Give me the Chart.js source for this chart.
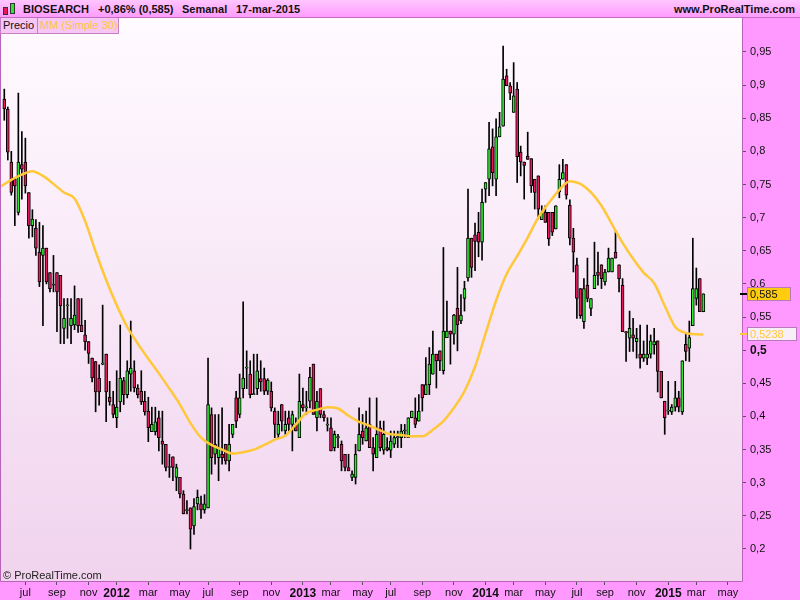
<!DOCTYPE html>
<html>
<head>
<meta charset="utf-8">
<title>BIOSEARCH - Semanal</title>
<script src="https://cdn.jsdelivr.net/npm/chart.js@4.4.1/dist/chart.umd.min.js"></script>
<style>
  body { margin: 0; width: 800px; height: 600px; overflow: hidden; position: relative;
         background: #ff99ff; font-family: "Liberation Sans", Arial, sans-serif; }
  #top { position: absolute; left: 0; top: 0; width: 800px; height: 17px;
         background: linear-gradient(#ffc6ff, #ff9cff); border-bottom: 1px solid #c46cc4; }
  #top span { position: absolute; top: 3px; font-size: 11px; font-weight: bold; color: #111; white-space: nowrap; }
  .ico { position: absolute; border: 1px solid #333; width: 3px; }
  #wrap { position: absolute; left: 0; top: 18px; width: 800px; height: 582px; }
  .leg { position: absolute; top: 18px; height: 15px; line-height: 15px; font-size: 11px; padding: 0 2px;
         white-space: nowrap; background: #f6c6f4; border: 1px solid #c57fc5; border-top: none; }
  #copy { position: absolute; left: 3px; top: 569px; font-size: 11px; color: #222; }
</style>
</head>
<body>
<div id="top">
  <div class="ico" style="left:3px;top:7px;height:6px;background:#e8185c"></div>
  <div class="ico" style="left:10px;top:3px;height:9px;background:#2ee82e"></div>
  <span style="left:23px">BIOSEARCH</span>
  <span style="left:98px">+0,86% (0,585)</span>
  <span style="left:182px">Semanal</span>
  <span style="left:236px">17-mar-2015</span>
  <span style="right:5px">www.ProRealTime.com</span>
</div>
<div id="wrap"><canvas id="chart"></canvas></div>
<div class="leg" style="left:0;width:33px;color:#111">Precio</div>
<div class="leg" style="left:37px;width:76px;color:#fbc63c">MM (Simple 30)</div>
<div id="copy">© ProRealTime.com</div>

<script>
// weekly candles, first one is the week of 23-may-2011
const firstWeek = Date.UTC(2011, 4, 23);

const opens = [
  0.879, 0.864, 0.784, 0.758, 0.708, 0.780, 0.784, 0.738, 0.688, 0.684,
  0.648, 0.643, 0.654, 0.617, 0.598, 0.617, 0.613, 0.533, 0.567, 0.537,
  0.538, 0.578, 0.538, 0.523, 0.513, 0.488, 0.483, 0.458, 0.479, 0.494,
  0.429, 0.418, 0.398, 0.422, 0.454, 0.433, 0.464, 0.469, 0.443, 0.438,
  0.423, 0.408, 0.377, 0.377, 0.398, 0.363, 0.358, 0.323, 0.339, 0.308,
  0.308, 0.283, 0.258, 0.262, 0.235, 0.268, 0.268, 0.259, 0.262, 0.403,
  0.343, 0.338, 0.343, 0.358, 0.333, 0.373, 0.428, 0.403, 0.442, 0.473,
  0.464, 0.433, 0.442, 0.457, 0.457, 0.438, 0.438, 0.408, 0.373, 0.418,
  0.378, 0.398, 0.388, 0.388, 0.368, 0.418, 0.413, 0.423, 0.479, 0.398,
  0.442, 0.403, 0.387, 0.383, 0.353, 0.368, 0.358, 0.343, 0.323, 0.308,
  0.308, 0.348, 0.378, 0.363, 0.388, 0.353, 0.338, 0.383, 0.349, 0.353,
  0.349, 0.358, 0.368, 0.368, 0.378, 0.368, 0.398, 0.398, 0.393, 0.448,
  0.433, 0.448, 0.464, 0.494, 0.499, 0.469, 0.519, 0.529, 0.524, 0.563,
  0.544, 0.578, 0.609, 0.669, 0.674, 0.678, 0.663, 0.743, 0.758, 0.807,
  0.758, 0.822, 0.838, 0.914, 0.899, 0.859, 0.894, 0.799, 0.784, 0.793,
  0.789, 0.758, 0.763, 0.697, 0.708, 0.708, 0.708, 0.683, 0.739, 0.758,
  0.780, 0.719, 0.669, 0.629, 0.593, 0.543, 0.598, 0.563, 0.593, 0.618,
  0.629, 0.603, 0.618, 0.618, 0.648, 0.629, 0.598, 0.528, 0.518, 0.523,
  0.513, 0.494, 0.488, 0.488, 0.494, 0.508, 0.514, 0.468, 0.423, 0.408,
  0.407, 0.414, 0.428, 0.407, 0.509, 0.503, 0.537, 0.578, 0.608, 0.558
];
const highs = [
  0.894, 0.867, 0.800, 0.758, 0.888, 0.830, 0.820, 0.738, 0.712, 0.697,
  0.693, 0.688, 0.654, 0.617, 0.643, 0.617, 0.613, 0.578, 0.578, 0.578,
  0.597, 0.578, 0.578, 0.545, 0.513, 0.488, 0.483, 0.478, 0.568, 0.494,
  0.453, 0.438, 0.469, 0.538, 0.459, 0.484, 0.544, 0.484, 0.448, 0.469,
  0.438, 0.429, 0.414, 0.414, 0.408, 0.408, 0.358, 0.343, 0.339, 0.328,
  0.308, 0.288, 0.273, 0.262, 0.276, 0.289, 0.280, 0.282, 0.488, 0.413,
  0.403, 0.403, 0.413, 0.358, 0.388, 0.388, 0.438, 0.464, 0.573, 0.499,
  0.484, 0.494, 0.494, 0.484, 0.473, 0.457, 0.452, 0.413, 0.408, 0.418,
  0.408, 0.408, 0.408, 0.398, 0.464, 0.443, 0.438, 0.474, 0.479, 0.438,
  0.442, 0.408, 0.398, 0.398, 0.378, 0.373, 0.363, 0.343, 0.343, 0.318,
  0.358, 0.413, 0.403, 0.408, 0.428, 0.368, 0.428, 0.393, 0.393, 0.368,
  0.378, 0.378, 0.378, 0.388, 0.388, 0.398, 0.408, 0.428, 0.433, 0.448,
  0.489, 0.504, 0.529, 0.494, 0.499, 0.655, 0.574, 0.529, 0.554, 0.625,
  0.584, 0.604, 0.743, 0.669, 0.692, 0.708, 0.743, 0.753, 0.844, 0.834,
  0.849, 0.859, 0.959, 0.924, 0.904, 0.934, 0.904, 0.808, 0.784, 0.829,
  0.789, 0.758, 0.763, 0.718, 0.718, 0.708, 0.708, 0.718, 0.780, 0.788,
  0.780, 0.727, 0.684, 0.639, 0.593, 0.608, 0.639, 0.578, 0.663, 0.648,
  0.629, 0.622, 0.654, 0.639, 0.679, 0.629, 0.608, 0.528, 0.559, 0.548,
  0.533, 0.538, 0.514, 0.538, 0.523, 0.533, 0.514, 0.468, 0.423, 0.453,
  0.418, 0.453, 0.438, 0.484, 0.524, 0.544, 0.669, 0.624, 0.608, 0.585
];
const lows = [
  0.847, 0.787, 0.734, 0.688, 0.704, 0.728, 0.737, 0.669, 0.671, 0.643,
  0.596, 0.537, 0.600, 0.588, 0.588, 0.528, 0.510, 0.510, 0.518, 0.510,
  0.531, 0.527, 0.528, 0.500, 0.480, 0.452, 0.407, 0.417, 0.478, 0.392,
  0.417, 0.398, 0.383, 0.407, 0.418, 0.428, 0.438, 0.437, 0.428, 0.418,
  0.402, 0.362, 0.377, 0.372, 0.348, 0.328, 0.318, 0.308, 0.303, 0.288,
  0.277, 0.253, 0.253, 0.200, 0.222, 0.259, 0.246, 0.254, 0.262, 0.313,
  0.328, 0.303, 0.328, 0.328, 0.318, 0.368, 0.383, 0.398, 0.428, 0.442,
  0.428, 0.433, 0.433, 0.438, 0.433, 0.433, 0.408, 0.368, 0.368, 0.378,
  0.373, 0.378, 0.348, 0.378, 0.368, 0.408, 0.403, 0.413, 0.403, 0.378,
  0.398, 0.393, 0.378, 0.348, 0.348, 0.353, 0.318, 0.318, 0.318, 0.303,
  0.298, 0.348, 0.358, 0.363, 0.353, 0.318, 0.338, 0.348, 0.343, 0.348,
  0.338, 0.353, 0.353, 0.353, 0.368, 0.368, 0.398, 0.383, 0.393, 0.408,
  0.433, 0.433, 0.464, 0.443, 0.469, 0.464, 0.519, 0.479, 0.509, 0.499,
  0.540, 0.559, 0.604, 0.610, 0.620, 0.641, 0.636, 0.723, 0.733, 0.748,
  0.733, 0.822, 0.838, 0.899, 0.878, 0.859, 0.753, 0.763, 0.728, 0.788,
  0.738, 0.713, 0.698, 0.697, 0.693, 0.658, 0.673, 0.683, 0.730, 0.758,
  0.728, 0.659, 0.618, 0.548, 0.548, 0.533, 0.573, 0.552, 0.593, 0.598,
  0.593, 0.598, 0.618, 0.618, 0.639, 0.588, 0.528, 0.483, 0.498, 0.498,
  0.488, 0.473, 0.483, 0.478, 0.488, 0.494, 0.437, 0.428, 0.373, 0.403,
  0.403, 0.408, 0.407, 0.403, 0.484, 0.483, 0.537, 0.568, 0.558, 0.558
];
const closes = [
  0.864, 0.799, 0.738, 0.748, 0.784, 0.773, 0.748, 0.688, 0.698, 0.654,
  0.603, 0.654, 0.603, 0.593, 0.598, 0.588, 0.567, 0.548, 0.567, 0.548,
  0.553, 0.537, 0.528, 0.513, 0.495, 0.458, 0.437, 0.437, 0.479, 0.437,
  0.422, 0.403, 0.414, 0.458, 0.433, 0.469, 0.473, 0.443, 0.433, 0.422,
  0.407, 0.383, 0.388, 0.392, 0.368, 0.358, 0.323, 0.323, 0.323, 0.323,
  0.283, 0.253, 0.258, 0.230, 0.264, 0.278, 0.259, 0.268, 0.418, 0.338,
  0.358, 0.353, 0.338, 0.333, 0.358, 0.388, 0.393, 0.428, 0.458, 0.473,
  0.433, 0.433, 0.469, 0.452, 0.438, 0.455, 0.413, 0.388, 0.388, 0.393,
  0.388, 0.388, 0.403, 0.378, 0.423, 0.413, 0.413, 0.459, 0.403, 0.423,
  0.403, 0.398, 0.387, 0.348, 0.373, 0.368, 0.333, 0.323, 0.318, 0.313,
  0.343, 0.373, 0.368, 0.383, 0.353, 0.343, 0.373, 0.353, 0.373, 0.349,
  0.363, 0.368, 0.368, 0.378, 0.378, 0.398, 0.408, 0.388, 0.408, 0.428,
  0.448, 0.479, 0.494, 0.484, 0.484, 0.529, 0.529, 0.524, 0.553, 0.538,
  0.553, 0.593, 0.669, 0.625, 0.664, 0.663, 0.723, 0.753, 0.804, 0.768,
  0.822, 0.837, 0.909, 0.899, 0.888, 0.884, 0.792, 0.784, 0.779, 0.788,
  0.748, 0.738, 0.713, 0.707, 0.693, 0.668, 0.678, 0.718, 0.758, 0.768,
  0.734, 0.669, 0.648, 0.578, 0.552, 0.593, 0.578, 0.578, 0.613, 0.613,
  0.608, 0.618, 0.639, 0.639, 0.639, 0.608, 0.528, 0.526, 0.533, 0.518,
  0.518, 0.488, 0.494, 0.494, 0.514, 0.513, 0.468, 0.428, 0.398, 0.408,
  0.414, 0.428, 0.414, 0.484, 0.498, 0.519, 0.593, 0.593, 0.558, 0.585
];

const maWeeks = [
  -1, 2, 5, 8, 11, 14, 17, 20, 23, 26, 29, 32, 35, 38, 41, 44, 47, 50, 53, 56,
  59, 62, 65, 68, 71, 74, 77, 80, 83, 86, 89, 92, 95, 98, 101, 104, 107, 110, 113, 116,
  119, 122, 125, 128, 131, 134, 137, 140, 143, 146, 149, 152, 155, 158, 161, 164, 167, 170, 173, 176,
  179, 182, 185, 188, 191, 194, 197, 199
];
const maValues = [
  0.747, 0.757, 0.765, 0.770, 0.763, 0.751, 0.738, 0.729, 0.695, 0.649,
  0.606, 0.568, 0.535, 0.510, 0.487, 0.465, 0.442, 0.418, 0.390, 0.368,
  0.357, 0.350, 0.344, 0.346, 0.350, 0.357, 0.365, 0.371, 0.388, 0.405,
  0.410, 0.414, 0.412, 0.401, 0.392, 0.386, 0.379, 0.373, 0.372, 0.370,
  0.370, 0.380, 0.393, 0.413, 0.438, 0.475, 0.525, 0.575, 0.615, 0.642,
  0.670, 0.700, 0.722, 0.742, 0.755, 0.751, 0.738, 0.718, 0.690, 0.662,
  0.638, 0.617, 0.601, 0.567, 0.535, 0.526, 0.524, 0.5238
];

const monthLabels = ['jul', 'sep', 'nov', '2012', 'mar', 'may', 'jul', 'sep', 'nov', '2013', 'mar', 'may',
  'jul', 'sep', 'nov', '2014', 'mar', 'may', 'jul', 'sep', 'nov', '2015', 'mar', 'may'];
const monthStarts = ['2011-07', '2011-09', '2011-11', '2012-01', '2012-03', '2012-05', '2012-07', '2012-09',
  '2012-11', '2013-01', '2013-03', '2013-05', '2013-07', '2013-09', '2013-11', '2014-01', '2014-03',
  '2014-05', '2014-07', '2014-09', '2014-11', '2015-01', '2015-03', '2015-05'];
const yTicks = [0.2, 0.25, 0.3, 0.35, 0.4, 0.45, 0.5, 0.55, 0.6, 0.65, 0.7, 0.75, 0.8, 0.85, 0.9, 0.95];

const UP = '#2ee82e', DOWN = '#e8185c', MA_COLOR = '#ffc83a';
const FONT = '"Liberation Sans", Arial, sans-serif';

// first weekly candle of every month carries the label
const weekOfMonth = ym => {
  const [y, m] = ym.split('-').map(Number);
  return Math.ceil((Date.UTC(y, m - 1, 1) - firstWeek) / (7 * 864e5));
};
const monthTicks = monthStarts.map(weekOfMonth);
const comma = v => String(v).replace('.', ',');

const idx = closes.map((_, i) => i);
const last = closes.length - 1;

const panels = {
  id: 'panels',
  beforeDraw(chart) {
    const { ctx, chartArea: a } = chart;
    ctx.save();
    ctx.fillStyle = '#ff99ff';
    ctx.fillRect(0, 0, chart.width, chart.height);
    const g = ctx.createLinearGradient(0, a.top, 0, a.bottom);
    g.addColorStop(0, '#fffbff');
    g.addColorStop(1, '#f1d3ee');
    ctx.fillStyle = g;
    ctx.fillRect(a.left, a.top, a.right - a.left, a.bottom - a.top);
    ctx.restore();
  },
  afterDraw(chart) {
    const { ctx, chartArea: a, scales } = chart;
    ctx.save();
    ctx.strokeStyle = '#b962b9';
    ctx.lineWidth = 1;
    ctx.beginPath();
    ctx.moveTo(a.left + 0.5, a.top);
    ctx.lineTo(a.left + 0.5, a.bottom + 0.5);
    ctx.lineTo(a.right + 0.5, a.bottom + 0.5);
    ctx.lineTo(a.right + 0.5, a.top);
    ctx.stroke();

    // last price and last MA tags on the price axis
    const tag = (value, text, fill, color, tickColor, w) => {
      const y = Math.round(scales.y.getPixelForValue(value));
      ctx.fillStyle = tickColor;
      ctx.fillRect(a.right - 2, y - 1, 7, 2);
      const x = a.right + 5;
      ctx.fillStyle = fill;
      ctx.fillRect(x, y - 7, w, 14);
      ctx.strokeStyle = '#b879b8';
      ctx.strokeRect(x + 0.5, y - 6.5, w - 1, 13);
      ctx.fillStyle = color;
      ctx.font = '11px ' + FONT;
      ctx.textBaseline = 'middle';
      ctx.fillText(text, x + 3, y + 0.5);
    };
    tag(closes[last], comma(closes[last]), '#ffcc10', '#111', '#000', 44);
    tag(maValues[maValues.length - 1], comma(maValues[maValues.length - 1]), '#f8eef8', MA_COLOR, MA_COLOR, 50);
    ctx.restore();
  }
};

Chart.defaults.font.family = FONT;

new Chart(document.getElementById('chart'), {
  type: 'bar',
  data: {
    datasets: [
      {
        type: 'line',
        label: 'MM (Simple 30)',
        order: 0,
        data: maWeeks.map((w, k) => ({ x: w, y: maValues[k] })),
        borderColor: MA_COLOR,
        borderWidth: 2.5,
        pointRadius: 0,
        cubicInterpolationMode: 'monotone'
      },
      {
        label: 'Precio',
        order: 1,
        grouped: false,
        data: idx.map(i => ({ x: i, y: [opens[i], closes[i]] })),
        backgroundColor: idx.map(i => closes[i] >= opens[i] ? UP : DOWN),
        borderColor: '#000',
        borderWidth: 1,
        borderSkipped: false,
        barThickness: 3,
        minBarLength: 1
      },
      {
        label: 'rango',
        order: 2,
        grouped: false,
        data: idx.map(i => ({ x: i, y: [lows[i], highs[i]] })),
        backgroundColor: '#000',
        barThickness: 1
      }
    ]
  },
  options: {
    responsive: true,
    maintainAspectRatio: false,
    devicePixelRatio: 1,
    animation: false,
    layout: { padding: 0, autoPadding: false },
    plugins: { legend: { display: false }, tooltip: { enabled: false } },
    scales: {
      x: {
        type: 'linear',
        min: -1.22,
        max: 210,
        offset: false,
        afterFit: s => { s.height = 19; s.paddingLeft = 0; s.paddingRight = 0; },
        afterBuildTicks: s => { s.ticks = monthTicks.map(v => ({ value: v })); },
        grid: { drawOnChartArea: false, offset: false, tickLength: 4, color: '#555' },
        border: { display: false },
        ticks: {
          autoSkip: false, maxRotation: 0, minRotation: 0, padding: 1, color: '#111',
          callback: (v, i) => monthLabels[i],
          font: c => /^\d{4}$/.test(monthLabels[c.index] || '')
            ? { size: 12, weight: 'bold' } : { size: 11 }
        }
      },
      y: {
        type: 'linear',
        position: 'right',
        min: 0.1517,
        max: 1.0013,
        // plot fills the full height: no room kept for the end labels
        afterFit: s => { s.width = 58; s.paddingTop = 0; s.paddingBottom = 0; },
        afterBuildTicks: s => { s.ticks = yTicks.map(v => ({ value: v })); },
        grid: { drawOnChartArea: false, tickLength: 4, color: '#555' },
        border: { display: false },
        ticks: {
          padding: 4, color: '#111',
          callback: v => comma(v),
          font: c => c.tick && c.tick.value === 0.5 ? { size: 12, weight: 'bold' } : { size: 11 }
        }
      }
    }
  },
  plugins: [panels]
});
</script>
</body>
</html>
